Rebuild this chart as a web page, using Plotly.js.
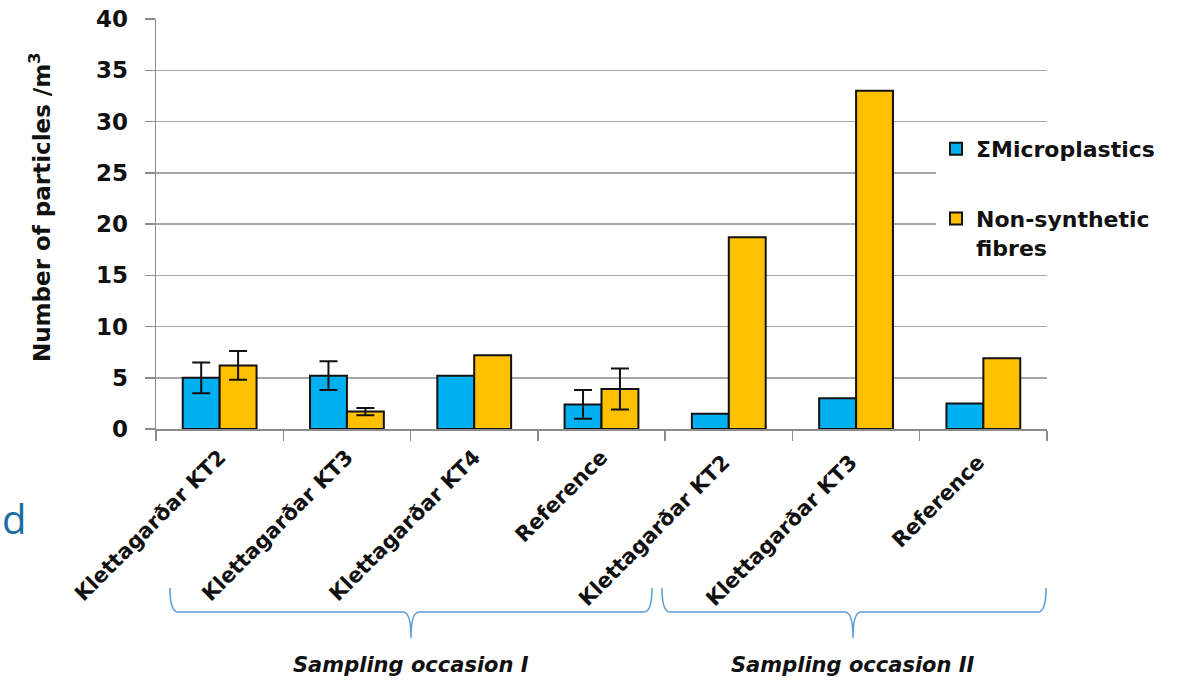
<!DOCTYPE html>
<html>
<head>
<meta charset="utf-8">
<script src="https://cdn.plot.ly/plotly-3.0.1.min.js"></script>
<style>html,body{margin:0;padding:0;background:#fff;}#chart{width:1179px;height:684px;}</style>
</head>
<body>
<div id="chart"></div>
<script>
// ---- data ----
var categories = ["Klettagarðar KT2", "Klettagarðar KT3", "Klettagarðar KT4", "Reference",
                  "Klettagarðar KT2 ", "Klettagarðar KT3 ", "Reference "];
var microplastics = [5.0, 5.2, 5.2, 2.4, 1.5, 3.0, 2.5];
var microplasticsErr = [1.5, 1.4, NaN, 1.4, NaN, NaN, NaN];
var nonSynthetic = [6.2, 1.7, 7.2, 3.9, 18.7, 33.0, 6.9];
var nonSyntheticErr = [1.4, 0.35, NaN, 2.0, NaN, NaN, NaN];
var seriesNames = ["ΣMicroplastics", "Non-synthetic<br>fibres"];
var groupLabels = ["Sampling occasion I", "Sampling occasion II"];
var yTitle = "Number of particles /m<sup>3</sup>";
var yTicks = [0, 5, 10, 15, 20, 25, 30, 35, 40];

// ---- layout helpers (pixel -> paper) ----
var L = 156, R = 1047, T = 19, B = 429;
function px(x) { return (x - L) / (R - L); }
function py(y) { return (B - y) / (B - T); }
function brace(x1, x2, cx, yTop, yH, yC) {
  var r = 8;
  return "M" + px(x1) + "," + py(yTop) +
    " Q" + px(x1) + "," + py(yH) + " " + px(x1 + r) + "," + py(yH) +
    " L" + px(cx - r) + "," + py(yH) +
    " Q" + px(cx) + "," + py(yH) + " " + px(cx) + "," + py(yC) +
    " Q" + px(cx) + "," + py(yH) + " " + px(cx + r) + "," + py(yH) +
    " L" + px(x2 - r) + "," + py(yH) +
    " Q" + px(x2) + "," + py(yH) + " " + px(x2) + "," + py(yTop);
}

var FONT = "'DejaVu Sans', 'Open Sans', sans-serif";

var traces = [
  {
    type: "bar", x: categories, y: microplastics, name: seriesNames[0], legendgroup: "a",
    marker: {color: "#00b0f0", line: {color: "#111", width: 2}},
    error_y: {type: "data", array: microplasticsErr, visible: true, color: "#111", thickness: 2, width: 9}
  },
  {
    type: "bar", x: categories, y: nonSynthetic, name: seriesNames[1], legendgroup: "b",
    marker: {color: "#ffc000", line: {color: "#111", width: 2}},
    error_y: {type: "data", array: nonSyntheticErr, visible: true, color: "#111", thickness: 2, width: 9}
  }
];

var layout = {
  width: 1179, height: 684,
  margin: {l: L, r: 1179 - R, t: T, b: 684 - B},
  paper_bgcolor: "#fff", plot_bgcolor: "#fff",
  font: {family: FONT, color: "#111", size: 20},
  barmode: "group", bargap: 0.42, bargroupgap: 0,
  showlegend: true,
  legend: {
    x: px(936), y: py(128), xanchor: "left", yanchor: "top", valign: "top",
    bgcolor: "#fff", borderwidth: 0, tracegroupgap: 38,
    font: {family: FONT, size: 22, color: "#111", weight: "bold"}
  },
  xaxis: {
    type: "category", tickson: "boundaries", ticks: "outside", ticklen: 10, tickcolor: "#8c8c8c", tickwidth: 1.5,
    showline: true, linecolor: "#8c8c8c", linewidth: 1.5, showgrid: false,
    tickangle: -45, ticklabelstandoff: 6,
    tickfont: {family: FONT, size: 21, color: "#111", weight: "bold"},
    automargin: false
  },
  yaxis: {
    range: [0, 40], tickvals: yTicks, ticktext: yTicks.map(String),
    ticks: "outside", ticklen: 10, tickcolor: "#8c8c8c", tickwidth: 1.5, ticklabelstandoff: 12,
    showline: true, linecolor: "#8c8c8c", linewidth: 1.5,
    showgrid: true, gridcolor: "#a6a6a6", gridwidth: 1.5, zeroline: false,
    tickfont: {family: FONT, size: 23, color: "#111", weight: "bold"},
    automargin: false
  },
  shapes: [
    {type: "path", xref: "paper", yref: "paper", path: brace(170, 652, 411, 588, 612, 638),
     line: {color: "#5b9bd5", width: 1.5}},
    {type: "path", xref: "paper", yref: "paper", path: brace(662, 1046, 853, 588, 612, 638),
     line: {color: "#5b9bd5", width: 1.5}}
  ],
  annotations: [
    {text: yTitle, xref: "paper", yref: "paper", x: px(40), y: py(208), textangle: -90,
     xanchor: "center", yanchor: "middle", showarrow: false,
     font: {family: FONT, size: 23, color: "#111", weight: "bold"}},
    {text: groupLabels[0], xref: "paper", yref: "paper", x: px(411), y: py(665),
     xanchor: "center", yanchor: "middle", showarrow: false,
     font: {family: FONT, size: 21, color: "#111", weight: "bold", style: "italic"}},
    {text: groupLabels[1], xref: "paper", yref: "paper", x: px(853), y: py(665),
     xanchor: "center", yanchor: "middle", showarrow: false,
     font: {family: FONT, size: 21, color: "#111", weight: "bold", style: "italic"}},
    {text: "d", xref: "paper", yref: "paper", x: px(0), y: py(518), xanchor: "left", yanchor: "middle", showarrow: false,
     font: {family: "'Open Sans', sans-serif", size: 40, color: "#1a6aa3"}}
  ]
};

Plotly.newPlot("chart", traces, layout, {displayModeBar: false, staticPlot: true});
</script>
</body>
</html>
